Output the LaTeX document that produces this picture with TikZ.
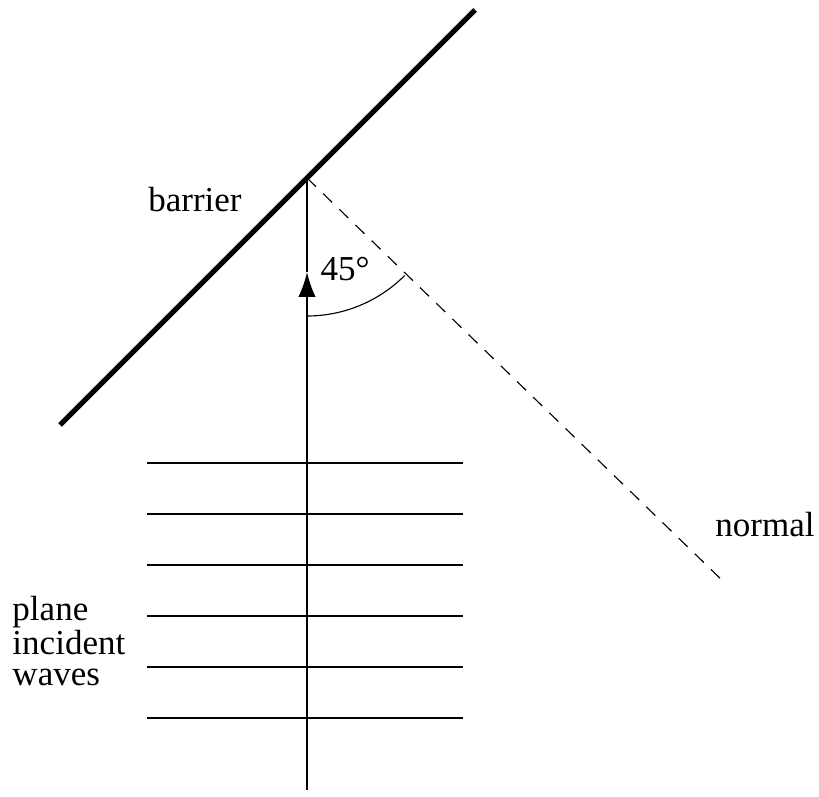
\documentclass[tikz,border=0pt]{standalone}
\usepackage{fontspec}
\setmainfont{Liberation Serif}
\usepackage{tikz}
\usetikzlibrary{arrows.meta}
\tikzset{wall/.style={line width=2pt},
    ray/.style={line width=0.8pt},
    wave/.style={line width=0.8pt},
    normalline/.style={line width=0.45pt, dashed, dash pattern=on 5pt off 4pt},
    lbl/.style={font=\fontsize{14}{12.5}\selectfont, inner sep=0pt}}
\tikzstyle{arrow} = [ray,-{Latex[length=10pt,width=7pt]}]

\begin{document}
\begin{tikzpicture}[x=0.4pt, y=-0.4pt]
    \useasboundingbox (0,0) rectangle (819,797);
    \coordinate (barBot) at (60,425);
    \coordinate (barTop) at (475,10);
    \coordinate (hit) at (307,178);
    \coordinate (src) at (307,790);
    \coordinate (tip) at (307,272);
    \coordinate (normEnd) at (727,585);

    \draw [wall] (barBot) -- (barTop);
    \draw [normalline] (hit) -- (normEnd);
    % waves
    \foreach \y in {463,514,565,616,667,718}
        \draw [wave] (147,\y) -- (463,\y);
    \draw [arrow] (src) -- (tip);
    \draw [ray] (tip) -- (hit);
    \draw [line width=0.45pt] ([shift={(90:138)}]hit) arc (90:45:138);

    \node (barrier) [lbl] at (195,200) {barrier};
    \node (angle) [lbl] at (345,269) {45°};
    \node (normal) [lbl] at (765,525) {normal};
    \node (waves) [lbl, align=left, anchor=west] at (12,641) {plane\\incident\\waves};
\end{tikzpicture}
\end{document}
